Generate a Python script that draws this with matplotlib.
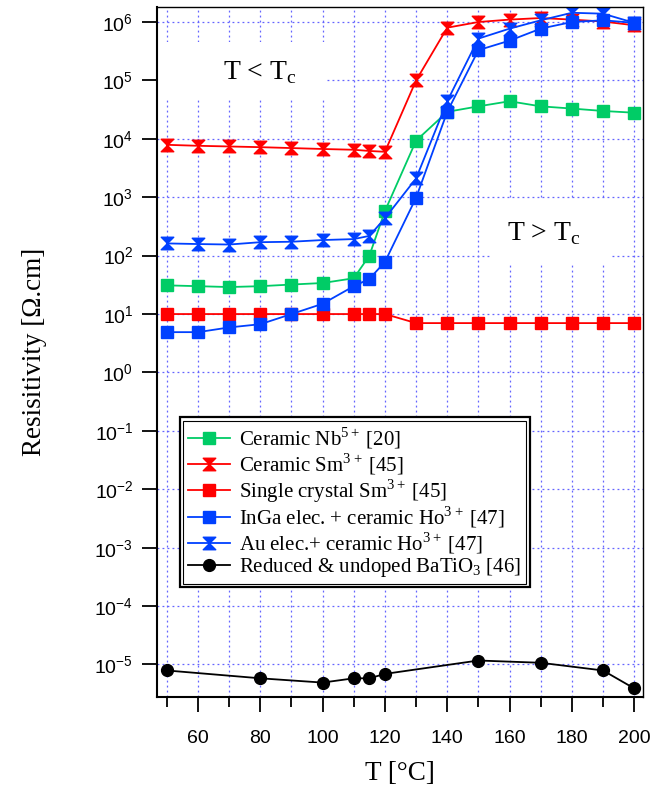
import matplotlib.pyplot as plt
from matplotlib.path import Path
from matplotlib.patches import Rectangle
from matplotlib.ticker import FixedLocator, FixedFormatter

plt.rcParams['font.family'] = 'serif'
plt.rcParams['font.serif'] = ['Liberation Serif', 'DejaVu Serif']
plt.rcParams['mathtext.fontset'] = 'custom'
plt.rcParams['mathtext.rm'] = 'Liberation Serif'
plt.rcParams['mathtext.sf'] = 'Liberation Sans'

# temperatures (°C)
T = [50, 60, 70, 80, 90, 100, 110, 115, 120, 130, 140, 150, 160, 170, 180, 190, 200]
T_batio3 = [50, 80, 100, 110, 115, 120, 150, 170, 190, 200]

# resistivity (Ohm.cm)
nb5_ceramic = [31, 30, 29, 30, 32, 34, 41, 100, 580, 9300, 29000, 36000, 44000,
               36000, 33000, 30000, 28000]
sm3_ceramic = [7900, 7600, 7400, 7200, 6950, 6700, 6500, 6200, 6000, 1.0e5, 8.0e5,
               1.0e6, 1.1e6, 1.17e6, 1.1e6, 1.02e6, 8.8e5]
sm3_crystal = [10, 10, 10, 10, 10, 10, 10, 10, 10, 7, 7, 7, 7, 7, 7, 7, 7]
ho3_inga = [4.9, 4.9, 5.9, 6.7, 10, 15, 30, 40, 78, 980, 29000, 3.3e5, 4.8e5,
            7.7e5, 1.0e6, 1.07e6, 9.7e5]
ho3_au = [162, 158, 155, 170, 173, 185, 192, 218, 437, 2100, 44000, 5.2e5, 7.7e5,
          1.07e6, 1.44e6, 1.39e6, 9.7e5]
batio3 = [7.9e-6, 5.8e-6, 4.9e-6, 5.8e-6, 5.8e-6, 6.9e-6, 1.17e-5, 1.07e-5,
          7.9e-6, 3.9e-6]

labels = [r'Ceramic Nb$^{\mathrm{5+}}\,$[20]',
          r'Ceramic Sm$^{\mathrm{3+}}\,$[45]',
          r'Single crystal Sm$^{\mathrm{3+}}\,$[45]',
          r'InGa elec. + ceramic Ho$^{\mathrm{3+}}\,$[47]',
          r'Au elec.+ ceramic Ho$^{\mathrm{3+}}\,$[47]',
          r'Reduced & undoped BaTiO$_{\mathrm{3}}$ [46]']

x_major = [60, 80, 100, 120, 140, 160, 180, 200]
x_minor = [50, 70, 90, 110, 130, 150, 170, 190]
y_ticks = [1e-5, 1e-4, 1e-3, 1e-2, 1e-1, 1e0, 1e1, 1e2, 1e3, 1e4, 1e5, 1e6]
y_ticklabels = [r'$\mathsf{10^{-5}}$', r'$\mathsf{10^{-4}}$', r'$\mathsf{10^{-3}}$',
                r'$\mathsf{10^{-2}}$', r'$\mathsf{10^{-1}}$', r'$\mathsf{10^{0}}$',
                r'$\mathsf{10^{1}}$', r'$\mathsf{10^{2}}$', r'$\mathsf{10^{3}}$',
                r'$\mathsf{10^{4}}$', r'$\mathsf{10^{5}}$', r'$\mathsf{10^{6}}$']

green = '#00CC66'
red = '#FF0000'
blue = '#0040FF'

# hourglass marker: two triangles tip to tip
hourglass = Path([(-1, 1), (1, 1), (0, 0), (-1, 1), (-1, -1), (1, -1), (0, 0), (-1, -1)],
                 [Path.MOVETO, Path.LINETO, Path.LINETO, Path.CLOSEPOLY,
                  Path.MOVETO, Path.LINETO, Path.LINETO, Path.CLOSEPOLY])

fig = plt.figure(figsize=(6.51, 7.90), dpi=100)
ax = fig.add_axes([0.241, 0.118, 0.747, 0.873])

lw = 1.3
ax.plot(T, nb5_ceramic, color=green, marker='s', ms=8.5, lw=lw, label=labels[0])
ax.plot(T, sm3_ceramic, color=red, marker=hourglass, ms=9, lw=lw, label=labels[1])
ax.plot(T, sm3_crystal, color=red, marker='s', ms=8.5, lw=lw, label=labels[2])
ax.plot(T, ho3_inga, color=blue, marker='s', ms=8.5, lw=lw, label=labels[3])
ax.plot(T, ho3_au, color=blue, marker=hourglass, ms=9, lw=lw, label=labels[4])
ax.plot(T_batio3, batio3, color='black', marker='o', ms=8.5, lw=lw, label=labels[5])

ax.set_yscale('log')
ax.set_xlim(46.8, 202.9)
ax.set_ylim(2.8e-6, 1.8e6)

ax.xaxis.set_major_locator(FixedLocator(x_major))
ax.xaxis.set_minor_locator(FixedLocator(x_minor))
ax.yaxis.set_major_locator(FixedLocator(y_ticks))
ax.yaxis.set_major_formatter(FixedFormatter(y_ticklabels))
ax.yaxis.set_minor_locator(FixedLocator([]))
ax.tick_params(axis='x', which='major', direction='out', length=11, width=1.3,
               labelsize=14, pad=13, top=False)
ax.tick_params(axis='x', which='minor', direction='out', length=7, width=1.3, top=False)
ax.tick_params(axis='y', which='major', direction='out', length=11, width=1.3,
               labelsize=14, pad=6, right=False)
for lab in ax.get_xticklabels():
    lab.set_family('Liberation Sans')

for side in ['left', 'bottom']:
    ax.spines[side].set_linewidth(1.5)
for side in ['top', 'right']:
    ax.spines[side].set_linewidth(1.0)

ax.set_axisbelow(True)
ax.grid(True, which='both', axis='x', color='#6464FF', ls=(0, (1.5, 2.5)), lw=0.9)
ax.grid(True, which='major', axis='y', color='#6464FF', ls=(0, (1.5, 2.5)), lw=0.9)

# white boxes behind annotations
ax.add_patch(Rectangle((0.0, 0.865), 0.35, 0.084, transform=ax.transAxes,
                       facecolor='white', edgecolor='none', zorder=1))
ax.add_patch(Rectangle((0.685, 0.629), 0.251, 0.091, transform=ax.transAxes,
                       facecolor='white', edgecolor='none', zorder=1))
ax.text(0.212, 0.905, r'T < T$_{\mathrm{c}}$', transform=ax.transAxes,
        fontsize=20, ha='center', va='center', zorder=3)
ax.text(0.795, 0.672, r'T > T$_{\mathrm{c}}$', transform=ax.transAxes,
        fontsize=20, ha='center', va='center', zorder=3)

ax.set_xlabel('T [°C]', fontsize=19.5, labelpad=10)
ax.set_ylabel('Resisitivity [Ω.cm]', fontsize=19.5, labelpad=34)

leg = ax.legend(loc='upper left', bbox_to_anchor=(0.047, 0.405), borderaxespad=0,
                fontsize=15, handlelength=2.0, labelspacing=0.0, fancybox=False,
                framealpha=1, edgecolor='black', borderpad=0.4, handletextpad=0.45)
leg.get_frame().set_linewidth(1.6)

# inner line of the double legend border
fig.canvas.draw()
bb = leg.get_window_extent()
W, H = fig.bbox.width, fig.bbox.height
inset = 3.2
fig.add_artist(Rectangle(((bb.x0 + inset) / W, (bb.y0 + inset) / H),
                         (bb.width - 2 * inset) / W, (bb.height - 2 * inset) / H,
                         transform=fig.transFigure, fill=False, ec='black',
                         lw=0.8, zorder=10))

fig.savefig('out.png', dpi=100)
